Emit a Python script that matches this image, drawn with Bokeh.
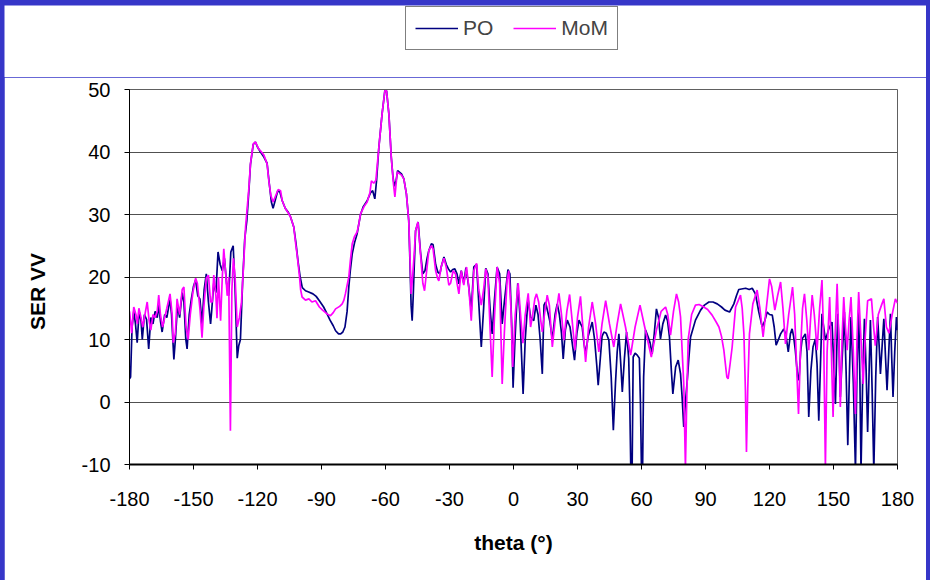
from bokeh.plotting import figure
from bokeh.models import FixedTicker, Legend, LegendItem, Range1d, CustomJSTickFormatter
from bokeh.layouts import column
from bokeh.embed import file_html
from bokeh.resources import INLINE

x_ticks = [-180, -150, -120, -90, -60, -30, 0, 30, 60, 90, 120, 150, 180]
y_ticks = [-10, 0, 10, 20, 30, 40, 50]
series_names = ["PO", "MoM"]

theta_po = [
    -180, -179.5, -178.8, -178, -177.2, -176.4, -175.5, -174.6, -174, -173,
    -172, -171, -170, -169, -168, -167, -166.3, -165.5, -164.7, -163.5,
    -162.5, -161, -160.3, -159.2, -158.5, -157.5, -156.5, -155.3, -154.5, -153.6,
    -153, -152, -151, -150, -149, -148, -147, -146, -145, -144,
    -143, -142, -141.5, -140.5, -139.5, -138.5, -137.5, -136.5, -135.5, -134.5,
    -133.5, -132.5, -131.4, -130.5, -129.5, -128.8, -128, -127, -126, -125,
    -124, -123.3, -122, -121, -120, -118.6, -117, -115.5, -114.5, -113.5,
    -112.7, -111.5, -110.5, -109.5, -108.4, -107, -105.5, -104.5, -103, -102,
    -101, -100, -99, -97.5, -96, -94, -92.5, -91, -89, -87.4,
    -86, -84.5, -83.4, -82, -81, -80, -79, -78, -77.2, -76.5,
    -75.6, -74.5, -73.3, -72.5, -71.7, -70.5, -68.6, -67, -66, -65,
    -64.2, -63.1, -61.6, -60.3, -59.5, -58.4, -57.3, -56.5, -55.8, -55,
    -54.3, -52.5, -51.4, -50.2, -49.1, -48.5, -48, -47.5, -47, -46.5,
    -45.9, -44.7, -43.6, -42.5, -41.5, -40.5, -39.7, -38.5, -37.7, -36.5,
    -35.5, -34.5, -33.9, -32.6, -31.5, -30.5, -29.5, -28.5, -27.5, -26.5,
    -25.6, -24.5, -23.3, -22.3, -21, -19.8, -18.6, -17.3, -16.3, -15.1,
    -14, -13, -12, -11, -10, -9, -7.7, -6.5, -5.3, -4.3,
    -2.6, -1.7, -0.8, -0.2, 0.7, 2, 3, 4.5, 5.5, 6.8,
    8, 9.5, 10.5, 11.5, 12.5, 13.5, 14.3, 15, 16, 17,
    18.2, 19.5, 20.5, 21.5, 22.5, 23.3, 24.3, 25.2, 26.5, 27.5,
    28.6, 29.7, 30.7, 31.5, 32.2, 33, 33.8, 35, 36.9, 38,
    39, 39.7, 40.7, 41.5, 42.4, 43.5, 44.7, 45.8, 46.8, 47.8,
    48.6, 49.4, 50.3, 51, 52, 53, 54, 54.5, 55, 55.6,
    56.1, 57, 58, 59, 59.5, 60, 60.5, 61, 61.9, 63,
    64, 65, 66, 67, 68, 68.9, 70, 71.3, 72.2, 73.1,
    74, 74.7, 76, 77.2, 78.3, 79, 79.8, 80.6, 81.4, 82.2,
    83, 85.3, 87.7, 89.5, 91.6, 93.5, 95.5, 97.5, 99.1, 101.3,
    103.3, 104.5, 105.6, 108.8, 110.5, 111.9, 113.4, 115, 116.6, 117.8,
    118.9, 120, 121.3, 122.2, 123.1, 124.2, 125.2, 126.7, 127.8, 128.8,
    129.8, 130.6, 131.3, 132.1, 133.2, 133.8, 134.6, 135.3, 136.8, 137.6,
    138.4, 139.4, 140.4, 141.5, 142.3, 143.1, 143.9, 144.6, 145.4, 146.2,
    147.8, 149.3, 150.1, 150.9, 151.5, 152, 152.6, 153.2, 154.2, 155.1,
    155.9, 156.7, 157.5, 158.2, 159.3, 160.3, 161, 161.8, 162.4, 162.9,
    163.7, 164.5, 165.3, 166, 166.7, 167.3, 168.1, 168.9, 169.8, 170.7,
    171.4, 172, 172.8, 173.6, 174.4, 175.1, 175.9, 176.7, 177.3, 177.9,
    178.7, 179.5, 180,
]
ser_po = [
    3.7, 4, 12, 14.5, 12.5, 9.5, 14.5, 13, 10, 14,
    13.2, 8.5, 13.5, 12.5, 14.5, 13.5, 15.5, 13, 11.2, 14,
    13.5, 16.5, 14, 6.8, 10, 15.5, 13.5, 17.5, 16, 10,
    8.5, 14, 16.5, 18.5, 19.5, 17, 16.5, 12.5, 18, 20.5,
    16, 12.5, 14.5, 19, 17.5, 24, 22, 21, 23, 19,
    17, 24, 25, 18, 7, 9, 10, 19, 26, 29,
    34, 38, 41.2, 41.6, 40.8, 40, 39.2, 38.2, 35, 32,
    31, 32.5, 33.8, 33.6, 32.2, 31, 30.3, 29.6, 28, 25.5,
    22.5, 20, 18.3, 17.8, 17.6, 17.3, 16.9, 16.2, 15.2, 14.1,
    13.1, 12.2, 11.4, 10.9, 10.9, 11.2, 12, 14.5, 18.4, 21,
    23.7, 25.5, 26.9, 28.5, 30, 31.2, 32.2, 33.5, 33.8, 32.5,
    35.4, 40.8, 46.1, 49.8, 49.8, 46, 39.2, 36, 34.5, 35.5,
    37, 36.5, 35.7, 33.3, 29, 22, 15.5, 13, 17, 22,
    27.4, 28.8, 24, 20.5, 21, 23, 24.2, 25.3, 25.2, 22,
    20.8, 20.5, 21.6, 23.2, 22, 21.3, 20.8, 21.2, 21.3, 20.5,
    18.9, 21, 19, 21.5, 18.5, 14.6, 21.6, 22, 16, 8.8,
    15, 21.4, 20.5, 15, 10.9, 16, 21.6, 20.5, 12.5, 16,
    21.2, 20.5, 12, 2.3, 10, 19, 14, 1.3, 10, 16.5,
    13.6, 13, 15.5, 14, 10, 4.5, 15.5, 16, 14.5, 13,
    10, 14, 15.7, 14, 11, 6.9, 11.5, 13.1, 12, 9.5,
    6.7, 11, 13.1, 12.5, 12, 9.5, 7.7, 10.5, 12.8, 10,
    6, 2.7, 7, 10.5, 11.2, 11, 9.9, 4, -4.5, 3,
    8, 10.9, 6, 1.6, 7, 11.2, 7, 0, -11, -11,
    7.2, 7.8, 7.5, 7, 0, -11, -11, 4, 11.5, 10.5,
    9.5, 7.7, 11, 14.9, 13.5, 10.1, 12.5, 13.9, 13, 10.4,
    5, 1.3, 5.6, 6.7, 4.5, 1, -4, 0, 3.2, 7,
    10.4, 13.1, 14.7, 15.5, 16, 16, 15.7, 15.2, 14.7, 14.4,
    15.7, 17, 18, 18.2, 18, 18.2, 17.3, 14.4, 12, 13,
    14.4, 14, 13.9, 12, 9.1, 10, 10.9, 11.7, 10.5, 8,
    10.9, 11.7, 10.5, 8.3, 4, 3.5, 8, 10.1, 10.9, 8,
    -2.4, 5, 8.8, 10.1, 6, -3, 6, 14.1, 12, 9.9,
    11.7, 12.8, 6, -0.3, 8, 14.1, 9, 0.8, 8, 14.4,
    5, -6.9, 5, 13.6, 3, -11, 5, 14.7, 3, -11,
    4, 13.3, 5, -4.8, 5, 13.1, 2, -11, 4, 13.6,
    9, 4.5, 9, 13.3, 7, 1.9, 8, 14.1, 7, 0.8,
    8, 13.6, 11.5,
]

theta_mom = [
    -180, -179.5, -179, -178, -177, -176.3, -175.6, -174.6, -173.8, -172.5,
    -171.7, -170.8, -170, -169, -168, -167, -166.3, -165.5, -164.5, -163.5,
    -162.5, -161, -160, -159.5, -158.5, -157.7, -156.5, -155.3, -154.5, -153.5,
    -152.5, -151.5, -150.3, -149, -148.2, -147, -146, -145.2, -144, -143,
    -142, -141.2, -140.5, -139.5, -139, -138.3, -137.3, -136.5, -135.8, -135,
    -134.2, -133.5, -132.7, -132, -131.3, -130.5, -129.5, -128.5, -127.5, -126.5,
    -125.6, -124, -123.3, -122, -120.9, -119.5, -118.6, -117, -115.5, -114.7,
    -113.7, -112.7, -111.5, -110.3, -109.2, -108.4, -107, -105.5, -104.5, -103,
    -102, -101.4, -100.3, -99.8, -99.1, -97.5, -95.9, -94.5, -92.8, -91,
    -89.5, -87.4, -85.8, -84.5, -83.4, -81.5, -80.3, -79.5, -78.8, -77.8,
    -77.2, -76.5, -75.6, -74.5, -73.3, -72.5, -71.7, -70, -68.6, -67.3,
    -66.6, -65.5, -64.5, -63.1, -61.6, -60.3, -59.5, -58.4, -57.3, -56.3,
    -55.6, -54.5, -52.5, -51.4, -50.2, -49.1, -48.3, -48, -47.3, -46.5,
    -45.9, -44.8, -43.6, -42.5, -41.7, -40.7, -39.7, -38.5, -37.7, -36.5,
    -35.5, -35, -33.9, -32.6, -31.5, -30.3, -29.5, -28.3, -27.2, -25.6,
    -24.5, -23.3, -22, -21, -19.8, -18.6, -17.3, -16.3, -15.1, -14,
    -13, -12, -11, -10, -9, -7.7, -6.5, -5.3, -4.3, -3,
    -2.2, -1.2, -0.4, 0.8, 2.2, 3.3, 4.4, 5.5, 6.9, 8,
    9, 10, 10.8, 11.8, 12.8, 13.5, 14.5, 15.8, 16.8, 18.2,
    19.5, 21.3, 22.5, 23.6, 25, 26.3, 27.5, 28.8, 30, 31.4,
    32.5, 33.8, 35.2, 36.9, 38.5, 40, 41.5, 43.2, 45, 47,
    48.6, 50.2, 52.5, 54.9, 57, 59.3, 61.5, 64.6, 67, 69.2,
    71.3, 72.3, 73.6, 75, 76.4, 77.4, 78.3, 79.8, 80.6, 81.3,
    81.9, 83.5, 85.3, 87, 89.2, 91, 93.1, 95, 96.3, 97.5,
    98.6, 100, 100.6, 101.5, 102.5, 104.1, 106.4, 107.2, 108, 108.7,
    109.2, 109.8, 110.6, 112.2, 114.2, 115.5, 117, 118.5, 120, 121,
    122.5, 123.8, 125.2, 126.3, 127.5, 129, 130.8, 131.8, 132.8, 133.6,
    134.5, 135.5, 136.4, 137.5, 138.4, 139.2, 140, 141, 142.3, 143.5,
    144.6, 145.4, 146.2, 147, 148.2, 149, 149.8, 150.7, 151.7, 152.5,
    153.2, 154, 154.8, 155.6, 156.4, 157.3, 158.2, 159.3, 160.3, 161,
    161.8, 162.9, 163.9, 164.8, 166, 167.8, 168.8, 169.6, 171, 172.5,
    173.6, 174.8, 176, 177.5, 179, 180,
]
ser_mom = [
    14.5, 13, 11, 15.2, 14, 12.5, 15, 13.5, 12, 14.5,
    16, 13, 11.5, 14, 13.5, 14.5, 17.1, 14, 12, 13.5,
    15, 17.3, 14, 9.5, 11, 16.5, 14, 18, 18.4, 12,
    10, 14, 17.5, 19.8, 19, 15, 10.3, 15, 19.8, 20.3,
    16, 16, 20.3, 17, 13.4, 20, 13, 20, 24.5, 21,
    17, 20, -4.6, 18, 23, 20, 12, 13.5, 16, 22,
    28, 34.4, 38.1, 41.3, 41.6, 40.5, 40.2, 39.5, 38.1, 35.4,
    33, 32, 33, 34, 33.8, 32.2, 31, 30.2, 29.6, 28,
    25, 23.5, 20, 18, 16.8, 16.3, 16.5, 16, 16.2, 15.2,
    14.7, 14.1, 13.8, 14.3, 14.9, 15.3, 15.7, 16.3, 17.3, 19,
    20, 22.5, 25.3, 26.5, 27.2, 28.5, 30.1, 31.3, 32, 33.5,
    35.4, 35, 35.5, 40.8, 46.1, 49.8, 49.8, 46, 39.2, 35,
    32.8, 36.8, 36.3, 35.7, 33.3, 29, 21, 17.3, 20, 24,
    27.4, 28.8, 23.7, 19, 17.8, 21, 24.2, 25, 24.5, 21,
    19.7, 19.4, 21.6, 23, 21.5, 18.7, 19, 21, 20.5, 17.3,
    21, 18.7, 21.6, 18.5, 13, 21, 22.2, 18, 15.5, 18,
    21.3, 20, 12, 4, 13, 21.6, 19, 2.9, 11, 19.5,
    21, 15, 5.6, 14, 19, 14, 9.4, 14, 17.4, 12,
    14, 16.5, 17.3, 16, 13, 11.2, 14, 17.1, 15.5, 8.8,
    13, 17.4, 14, 9.9, 14.5, 17.2, 13, 8.3, 13.5, 16.9,
    12, 6.4, 12, 16, 12.5, 8, 12.5, 16.2, 12.5, 8.8,
    12.5, 15.7, 12, 7.5, 12, 15.5, 12, 7.2, 11.5, 14.5,
    15.2, 14, 10.7, 14.5, 17.3, 16, 13.6, 2.9, -10.5, 2,
    10.1, 14, 15.5, 15.6, 15.2, 14.8, 13.9, 12.8, 12, 10.5,
    8.3, 4, 3.7, 6, 8.8, 15.2, 17.1, 15, 10.9, 2,
    -8, 2, 10.9, 15.7, 17.9, 15, 10.4, 15, 19.7, 18.5,
    14.7, 17, 19.2, 15, 9.3, 14, 18.4, 14, 5, -1.9,
    8, 15, 17.3, 13, 8.3, 13, 17.1, 14, 8.3, 15,
    19.5, 10, -10.5, 8, 16.8, 8, -2.4, 10, 18.9, 10,
    -0.8, 10, 16.8, 12, 8.3, 13, 16.8, 8, -1.9, 10,
    17.6, 10, 2.9, 10, 16.2, 16.5, 12, 9, 14, 15.5,
    16.5, 12, 11, 14, 16.5, 15.8,
]

FONT = "Liberation Sans"
PO_COLOR = "#000080"
MOM_COLOR = "#FF00FF"

# ---- legend strip (top of the chart); its ranges keep the series out of view ----
leg = figure(width=922, height=72, x_range=Range1d(1000, 1001), y_range=Range1d(1000, 1001),
             output_backend="svg", toolbar_location=None, title=None,
             x_axis_type=None, y_axis_type=None, frame_align=False,
             outline_line_color=None, outline_line_alpha=0,
             min_border_left=0, min_border_right=0, min_border_top=0, min_border_bottom=0)
leg.grid.visible = False
leg.background_fill_color = "white"
leg.border_fill_color = "white"
lp = leg.line(theta_po, ser_po, line_color=PO_COLOR, line_width=1.7)
lm = leg.line(theta_mom, ser_mom, line_color=MOM_COLOR, line_width=1.7)
legend = Legend(items=[LegendItem(label=series_names[0], renderers=[lp]),
                       LegendItem(label=series_names[1], renderers=[lm])],
                location=(401, 27), orientation="horizontal",
                label_text_font=FONT, label_text_font_size="21px",
                glyph_width=43, glyph_height=20, label_standoff=5, spacing=20,
                padding=9, margin=0, border_line_color="black", border_line_width=1,
                background_fill_color="white", background_fill_alpha=1)
leg.add_layout(legend, "center")

# ---- main chart ----
p = figure(width=922, height=503, x_range=Range1d(-180, 180), y_range=Range1d(-10, 50),
           output_backend="svg", toolbar_location=None, title=None, frame_align=False,
           min_border_left=125, min_border_right=29, min_border_top=12, min_border_bottom=116)
p.background_fill_color = "white"
p.border_fill_color = "white"
p.outline_line_color = "#606060"
p.outline_line_width = 1

p.line(theta_po, ser_po, line_color=PO_COLOR, line_width=1.7)
p.line(theta_mom, ser_mom, line_color=MOM_COLOR, line_width=1.7)

p.xaxis.ticker = FixedTicker(ticks=x_ticks)
p.yaxis.ticker = FixedTicker(ticks=y_ticks)
p.xaxis.formatter = CustomJSTickFormatter(code="return tick.toFixed(0);")
p.yaxis.formatter = CustomJSTickFormatter(code="return tick.toFixed(0);")
p.xgrid.grid_line_color = None
p.ygrid.grid_line_color = "#505050"
p.ygrid.grid_line_width = 1

for ax in (p.xaxis[0], p.yaxis[0]):
    ax.axis_line_color = "black"
    ax.major_tick_line_color = "black"
    ax.major_tick_in = 0
    ax.major_tick_out = 5
    ax.minor_tick_line_color = None
    ax.major_label_text_font = FONT
    ax.major_label_text_font_size = "20px"
    ax.major_label_text_color = "black"
    ax.axis_label_text_font = FONT
    ax.axis_label_text_font_size = "21px"
    ax.axis_label_text_font_style = "bold"
    ax.axis_label_text_color = "black"

p.xaxis.axis_line_width = 2
p.xaxis.major_label_standoff = 22
p.xaxis.axis_label = "theta (°)"
p.xaxis.axis_label_standoff = 22
p.yaxis.major_label_standoff = 14
p.yaxis.axis_label = "SER VV" + "\u00a0" * 5
p.yaxis.axis_label_standoff = 30

page = column(leg, p, spacing=0,
              styles={"background-color": "#3636c8", "padding": "5px 4px 0px 4px"})
open("out.html", "w").write(file_html(page, INLINE))
